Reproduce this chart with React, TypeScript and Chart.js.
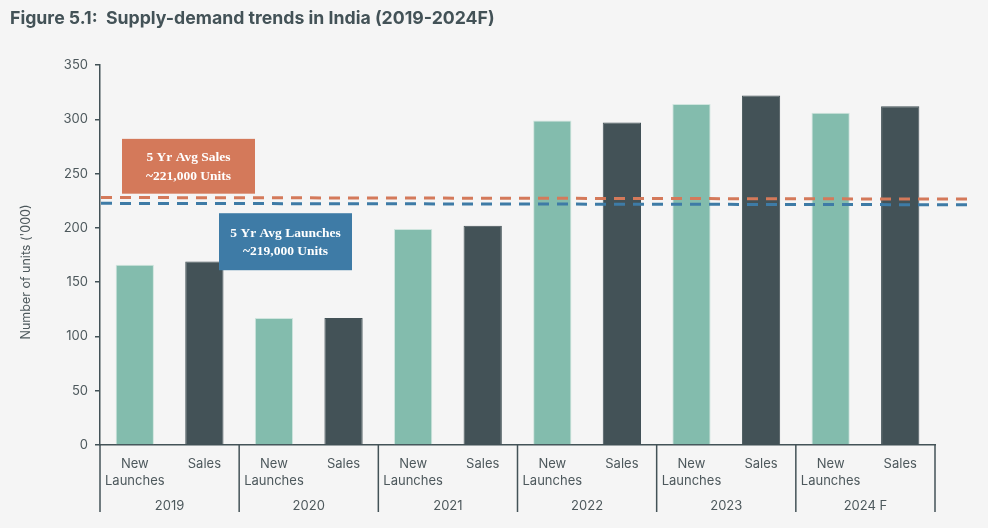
import React, { useEffect, useRef } from 'react';
import { Chart, registerables } from 'chart.js';

Chart.register(...registerables);

// ---------- data ----------
const titleText = 'Figure 5.1:  Supply-demand trends in India (2019-2024F)';
const yAxisTitle = "Number of units ('000)";
const years = ['2019', '2020', '2021', '2022', '2023', '2024 F'];
const barKinds: (string | string[])[] = [['New', 'Launches'], 'Sales'];
const newLaunches = [166, 117, 199, 299, 314, 306];
const sales = [169, 117, 202, 297, 322, 312];
const yMin = 0;
const yMax = 350;
const yStep = 50;
// dashed average lines: value at left end, value at right end
const salesAvgLine = [228, 226.5];
const launchesAvgLine = [222.6, 221.3];
const salesAvgText = ['5 Yr Avg Sales', '~221,000 Units'];
const launchesAvgText = ['5 Yr Avg Launches', '~219,000 Units'];

// ---------- styles ----------
const BG = '#f5f5f5';
const INK = '#435257';
const TICK_INK = '#4d585c';
const NL_COLOR = '#83bcad';
const NL_BORDER = '#cfe5de';
const SALES_COLOR = '#435257';
const ORANGE = '#d4795a';
const BLUE = '#3e7ba6';
const SANS = 'Inter, "Noto Sans", sans-serif';
const SERIF = '"Liberation Serif", "DejaVu Serif", serif';

const categoryLabels: (string | string[])[] = [];
const barValues: number[] = [];
const barColors: string[] = [];
const barBorders: string[] = [];
years.forEach((_, i) => {
  categoryLabels.push(barKinds[0], barKinds[1]);
  barValues.push(newLaunches[i], sales[i]);
  barColors.push(NL_COLOR, SALES_COLOR);
  barBorders.push(NL_BORDER, SALES_COLOR);
});

const overlayPlugin = {
  id: 'overlay',
  afterDatasetsDraw(chart: any) {
    const { ctx, chartArea, scales } = chart;
    const ys = scales.y;
    const left = chartArea.left;
    const right = chartArea.right + 37;

    const dash = (vals: number[], color: string) => {
      ctx.save();
      ctx.strokeStyle = color;
      ctx.lineWidth = 3;
      ctx.setLineDash([11, 8]);
      ctx.beginPath();
      ctx.moveTo(left + 1, ys.getPixelForValue(vals[0]));
      ctx.lineTo(right, ys.getPixelForValue(vals[1]));
      ctx.stroke();
      ctx.restore();
    };
    dash(salesAvgLine, ORANGE);
    dash(launchesAvgLine, BLUE);

    const box = (x0: number, x1: number, vTop: number, vBot: number, color: string, lines: string[]) => {
      const top = ys.getPixelForValue(vTop);
      const bot = ys.getPixelForValue(vBot);
      ctx.save();
      ctx.fillStyle = color;
      ctx.fillRect(left + x0, top, x1 - x0, bot - top);
      ctx.fillStyle = '#ffffff';
      ctx.font = `bold 13.5px ${SERIF}`;
      ctx.textAlign = 'center';
      ctx.textBaseline = 'middle';
      const cx = left + (x0 + x1) / 2;
      const cy = (top + bot) / 2;
      ctx.fillText(lines[0], cx, cy - 8.5);
      ctx.fillText(lines[1], cx, cy + 10);
      ctx.restore();
    };
    box(22, 155, 282, 231.5, ORANGE, salesAvgText);
    box(119, 252, 213.5, 161, BLUE, launchesAvgText);
  },
  afterDraw(chart: any) {
    const { ctx, chartArea, scales } = chart;
    const xs = scales.x;
    const cw = xs.getPixelForValue(1) - xs.getPixelForValue(0);
    ctx.save();
    ctx.strokeStyle = INK;
    ctx.lineWidth = 1.5;
    for (let k = 0; k <= years.length; k++) {
      const px = xs.getPixelForValue(0) - cw / 2 + k * 2 * cw;
      ctx.beginPath();
      ctx.moveTo(px, chartArea.bottom);
      ctx.lineTo(px, chartArea.bottom + 67);
      ctx.stroke();
    }
    ctx.restore();

    ctx.save();
    ctx.translate(26, chartArea.bottom - 173);
    ctx.rotate(-Math.PI / 2);
    ctx.fillStyle = TICK_INK;
    ctx.font = `12.5px ${SANS}`;
    ctx.textAlign = 'center';
    ctx.textBaseline = 'middle';
    ctx.fillText(yAxisTitle, 0, 0);
    ctx.restore();
  },
};

export default function App() {
  const ref = useRef<HTMLCanvasElement | null>(null);

  useEffect(() => {
    if (!ref.current) return;
    const chart = new Chart(ref.current, {
      type: 'bar',
      data: {
        labels: categoryLabels as any,
        datasets: [
          {
            data: barValues,
            backgroundColor: barColors,
            borderColor: barBorders,
            borderWidth: 1,
            categoryPercentage: 1,
            barPercentage: 0.55,
          },
        ],
      },
      options: {
        animation: false,
        responsive: false,
        devicePixelRatio: 1,
        layout: { padding: { left: 10, right: 53, top: 0, bottom: 0 } },
        plugins: {
          legend: { display: false },
          tooltip: { enabled: false },
          title: {
            display: true,
            text: titleText,
            align: 'start',
            color: INK,
            font: { family: SANS, size: 17.7, weight: '700' as any, lineHeight: 1.2 },
            padding: { top: 8, bottom: 35.8 },
          },
        },
        scales: {
          x: {
            type: 'category',
            offset: true,
            weight: 0,
            grid: { display: false, drawTicks: false },
            border: { display: true, color: INK, width: 1.5 },
            ticks: {
              color: TICK_INK,
              font: { family: SANS, size: 13, lineHeight: 1.3 },
              padding: 10.5,
              maxRotation: 0,
              autoSkip: false,
            },
            afterFit: (s: any) => {
              s.height = 47;
            },
          },
          x2: {
            type: 'category',
            labels: years,
            position: 'bottom',
            offset: true,
            weight: 1,
            grid: { display: false, drawTicks: false },
            border: { display: false },
            ticks: {
              color: TICK_INK,
              font: { family: SANS, size: 13, lineHeight: 1.3 },
              padding: 5.5,
              maxRotation: 0,
              autoSkip: false,
            },
            afterFit: (s: any) => {
              s.height = 36;
            },
          },
          y: {
            min: yMin,
            max: yMax,
            ticks: {
              stepSize: yStep,
              color: TICK_INK,
              font: { family: SANS, size: 13 },
              padding: 7,
            },
            grid: {
              drawOnChartArea: false,
              drawTicks: true,
              tickLength: 5,
              color: INK,
              lineWidth: 1.5,
            },
            border: { display: true, color: INK, width: 1.5 },
            afterFit: (s: any) => {
              s.width = 90;
            },
          },
        },
      } as any,
      plugins: [overlayPlugin],
    });
    return () => chart.destroy();
  }, []);

  return (
    <div style={{ position: 'fixed', left: 0, top: 0, width: 988, height: 528, background: BG }}>
      <canvas ref={ref} width={988} height={528} style={{ display: 'block', width: 988, height: 528 }} />
    </div>
  );
}
